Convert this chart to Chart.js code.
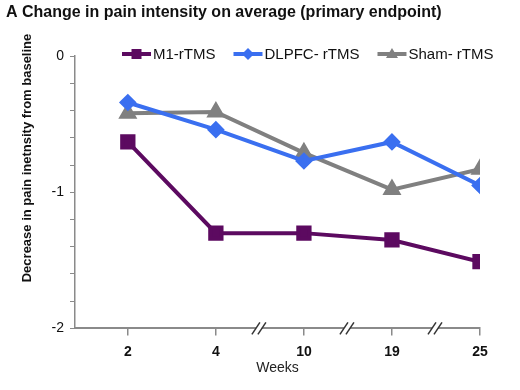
<!DOCTYPE html>
<html>
<head>
<meta charset="utf-8">
<script src="https://cdn.jsdelivr.net/npm/chart.js@4/dist/chart.umd.min.js"></script>
<style>
  html, body { margin: 0; padding: 0; background: #fff; }
  #wrap { width: 520px; height: 390px; }
</style>
</head>
<body>
<div id="wrap"><canvas id="painChart" width="520" height="390"></canvas></div>
<script>
// valeurs
var weeks = ['2', '4', '10', '19', '25'];
var m1 = [-0.63, -1.30, -1.30, -1.35, -1.51];
var dlpfc = [-0.34, -0.54, -0.77, -0.63, -0.95];
var sham = [-0.42, -0.41, -0.71, -0.98, -0.83];
var seriesNames = ['M1-rTMS', 'DLPFC- rTMS', 'Sham- rTMS'];
var yTitle = 'Decrease in pain inetnsity from baseline';

var FONT = 'Arial, "Liberation Sans", sans-serif';
var AXIS_GREY = '#8a8a8a';

function toPoints(vals) {
    return vals.map(function (v, i) { return { x: i + 1, y: v }; });
}

// legende dessinee a la main (ligne + marqueur comme dans Excel)
var legendPlugin = {
    id: 'lineLegend',
    afterDraw: function (chart) {
        var c = chart.ctx;
        var x = 122, y = 54;
        c.save();
        c.font = '15px ' + FONT;
        c.textBaseline = 'middle';
        chart.data.datasets.forEach(function (ds) {
            c.strokeStyle = ds.borderColor;
            c.lineWidth = 4;
            c.beginPath();
            c.moveTo(x, y);
            c.lineTo(x + 29, y);
            c.stroke();
            c.fillStyle = ds.borderColor;
            var mx = x + 14.5;
            c.beginPath();
            if (ds.pointStyle === 'rect') {
                c.rect(mx - 5, y - 5, 10, 10);
            } else if (ds.pointStyle === 'rectRot') {
                c.moveTo(mx, y - 6); c.lineTo(mx + 6, y); c.lineTo(mx, y + 6); c.lineTo(mx - 6, y);
            } else {
                c.moveTo(mx, y - 6); c.lineTo(mx + 6, y + 4); c.lineTo(mx - 6, y + 4);
            }
            c.closePath();
            c.fill();
            c.fillStyle = '#111';
            c.fillText(ds.label, x + 31, y + 1);
            x += 31 + c.measureText(ds.label).width + 18;
        });
        c.restore();
    }
};

// titre de l'axe y, place comme dans l'original (un peu au-dessus du centre)
var yTitlePlugin = {
    id: 'yTitle',
    afterDraw: function (chart) {
        var c = chart.ctx;
        c.save();
        c.translate(27, 158);
        c.rotate(-Math.PI / 2);
        c.font = 'bold 13px ' + FONT;
        c.fillStyle = '#111';
        c.textAlign = 'center';
        c.textBaseline = 'middle';
        c.fillText(yTitle, 0, 0);
        c.restore();
    }
};

// marques de coupure "//" sur l'axe des x
var breakPlugin = {
    id: 'axisBreaks',
    afterDraw: function (chart) {
        var c = chart.ctx;
        var xs = chart.scales.x;
        var yb = chart.chartArea.bottom;
        c.save();
        c.strokeStyle = '#333';
        c.lineWidth = 1.5;
        [2.5, 3.5, 4.5].forEach(function (v) {
            var px = xs.getPixelForValue(v);
            c.fillStyle = '#fff';
            c.fillRect(px - 4, yb - 2, 6, 4);
            [-4, 2].forEach(function (o) {
                c.beginPath();
                c.moveTo(px + o - 4, yb + 6);
                c.lineTo(px + o + 4, yb - 6);
                c.stroke();
            });
        });
        c.restore();
    }
};

var ctx = document.getElementById('painChart').getContext('2d');
var painChart = new Chart(ctx, {
    type: 'line',
    data: {
        datasets: [{
            label: seriesNames[0],
            data: toPoints(m1),
            borderColor: '#5c0a60',
            backgroundColor: '#5c0a60',
            borderWidth: 4,
            pointStyle: 'rect',
            pointRadius: 8,
            pointHoverRadius: 8
        }, {
            label: seriesNames[1],
            data: toPoints(dlpfc),
            borderColor: '#3a6ff0',
            backgroundColor: '#3a6ff0',
            borderWidth: 4,
            pointStyle: 'rectRot',
            pointRadius: 6,
            pointHoverRadius: 6
        }, {
            label: seriesNames[2],
            data: toPoints(sham),
            borderColor: '#808080',
            backgroundColor: '#808080',
            borderWidth: 4,
            pointStyle: 'triangle',
            pointRadius: 7,
            pointHoverRadius: 7
        }]
    },
    options: {
        responsive: false,
        animation: false,
        layout: { padding: { left: 6, right: 40, top: 0, bottom: 13 } },
        plugins: {
            legend: { display: false },
            tooltip: { enabled: false },
            title: {
                display: true,
                text: 'A Change in pain intensity on average (primary endpoint)',
                align: 'start',
                color: '#111',
                font: { family: FONT, size: 16, weight: 'bold' },
                padding: { top: 3, bottom: 34 }
            }
        },
        scales: {
            x: {
                type: 'linear',
                min: 0.4,
                max: 5,
                afterBuildTicks: function (scale) {
                    scale.ticks = weeks.map(function (w, i) { return { value: i + 1 }; });
                },
                ticks: {
                    color: '#111',
                    font: { family: FONT, size: 14, weight: 'bold' },
                    padding: 8,
                    maxRotation: 0,
                    callback: function (v) { return weeks[Math.round(v) - 1]; }
                },
                grid: { drawOnChartArea: false, color: AXIS_GREY, tickLength: 7, lineWidth: 1.5 },
                border: { color: AXIS_GREY, width: 2 },
                title: {
                    display: true,
                    text: 'Weeks',
                    color: '#222',
                    font: { family: FONT, size: 14 },
                    padding: { top: -8, bottom: 0 }
                }
            },
            y: {
                min: -2,
                max: 0,
                afterFit: function (scale) { scale.width = 69; },
                ticks: {
                    stepSize: 0.2,
                    color: '#111',
                    font: { family: FONT, size: 14 },
                    padding: 6,
                    autoSkip: false,
                    callback: function (v) {
                        return Math.abs(v - Math.round(v)) < 1e-6 ? String(Math.round(v)) : '';
                    }
                },
                grid: { drawOnChartArea: false, color: AXIS_GREY, tickLength: 5, lineWidth: 1 },
                border: { color: AXIS_GREY, width: 1.5 }
            }
        }
    },
    plugins: [legendPlugin, breakPlugin, yTitlePlugin]
});
</script>
</body>
</html>
